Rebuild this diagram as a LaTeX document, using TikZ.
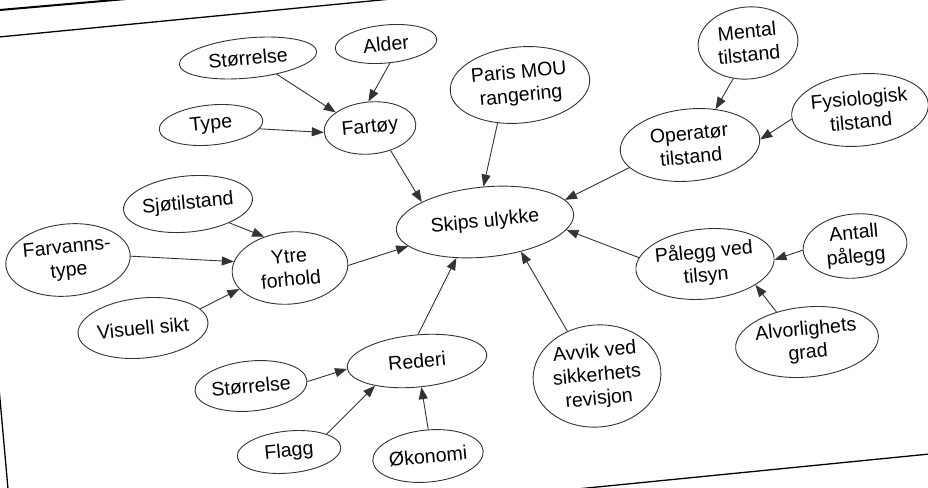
\documentclass[tikz,border=0pt]{standalone}
\usepackage{fontspec}
\setmainfont{Liberation Sans}
\usetikzlibrary{shapes.geometric,arrows.meta}

\tikzset{
  bub/.style={ellipse, draw=black!80, line width=0.9pt, inner sep=0pt,
    align=center, rotate=5.5, text=black,
    font=\fontsize{19.6}{23.5}\selectfont},
  link/.style={draw=black!80, line width=0.9pt,
    -{Triangle[length=12pt,width=9pt]}},
  sheet/.style={draw=black, line width=1.3pt}
}

\begin{document}
\begin{tikzpicture}[x=1pt,y=-1pt]
\useasboundingbox (0,0) rectangle (928,487);
\clip (0,0) rectangle (928,487);

% page edges
\draw[sheet] (1000,-60) -- (-32,40) -- (13,545) -- (1000,447);
\draw[black, line width=2pt] (-20,11.7) -- (140,-2.2);

% nodes
\node[bub, minimum width=138pt, minimum height=40pt] (str1) at (248,58) {Størrelse};
\node[bub, minimum width=102pt, minimum height=38pt] (alder) at (386,44) {Alder};
\node[bub, minimum width=104pt, minimum height=40pt] (type) at (211,125) {Type};
\node[bub, minimum width=92pt, minimum height=52pt] (fartoy) at (370,128) {Fartøy};
\node[bub, minimum width=140pt, minimum height=76pt] (paris) at (520,85) {Paris MOU\\rangering};
\node[bub, minimum width=100pt, minimum height=72pt] (mental) at (748,43) {Mental\\tilstand};
\node[bub, minimum width=124pt, minimum height=72pt] (fysio) at (860,110) {Fysiologisk\\tilstand};
\node[bub, minimum width=140pt, minimum height=72pt] (oper) at (690,145) {Operatør\\tilstand};
\node[bub, minimum width=178pt, minimum height=70pt] (skips) at (485,222) {Skips ulykke};
\node[bub, minimum width=118pt, minimum height=56pt] (sjo) at (188,204) {Sjøtilstand};
\node[bub, minimum width=116pt, minimum height=72pt] (farv) at (68,260) {Farvanns-\\type};
\node[bub, minimum width=116pt, minimum height=72pt] (ytre) at (290,268) {Ytre\\forhold};
\node[bub, minimum width=128pt, minimum height=60pt] (visu) at (143,328) {Visuell sikt};
\node[bub, minimum width=140pt, minimum height=52pt] (rederi) at (417,361) {Rederi};
\node[bub, minimum width=104pt, minimum height=50pt] (str2) at (251,386) {Størrelse};
\node[bub, minimum width=104pt, minimum height=42pt] (flagg) at (289,452) {Flagg};
\node[bub, minimum width=104pt, minimum height=52pt] (okon) at (428,456) {Økonomi};
\node[bub, minimum width=128pt, minimum height=102pt] (avvik) at (597,376) {Avvik ved\\sikkerhets\\revisjon};
\node[bub, minimum width=128pt, minimum height=70pt] (paleg) at (705,264) {Pålegg ved\\tilsyn};
\node[bub, minimum width=104pt, minimum height=64pt] (antall) at (855,246) {Antall\\pålegg};
\node[bub, minimum width=140pt, minimum height=70pt] (alvor) at (807,342) {Alvorlighets\\grad};

% connectors
\draw[link] (str1.-35) -- (fartoy.150);
\draw[link] (alder.-84) -- (fartoy.88);
\draw[link] (type.-10) -- (fartoy.180);
\draw[link] (fartoy.-53) -- (skips.157);
\draw[link] (paris.-126) -- (skips.87);
\draw[link] (mental.-118) -- (oper.49);
\draw[link] (fysio.182) -- (oper.-1);
\draw[link] (oper.195) -- (skips.10);
\draw[link] (sjo.-30) -- (ytre.124);
\draw[link] (farv.-2) -- (ytre.168);
\draw[link] (visu.13) -- (ytre.197);
\draw[link] (ytre.-3) -- (skips.192);
\draw[link] (rederi.82) -- (skips.226);
\draw[link] (str2.-1) -- (rederi.181);
\draw[link] (flagg.20) -- (rederi.205);
\draw[link] (okon.84) -- (rederi.-86);
\draw[link] (avvik.118) -- (skips.-45);
\draw[link] (paleg.169) -- (skips.-11);
\draw[link] (antall.179) -- (paleg.-2);
\draw[link] (alvor.130) -- (paleg.-28);
\end{tikzpicture}
\end{document}
